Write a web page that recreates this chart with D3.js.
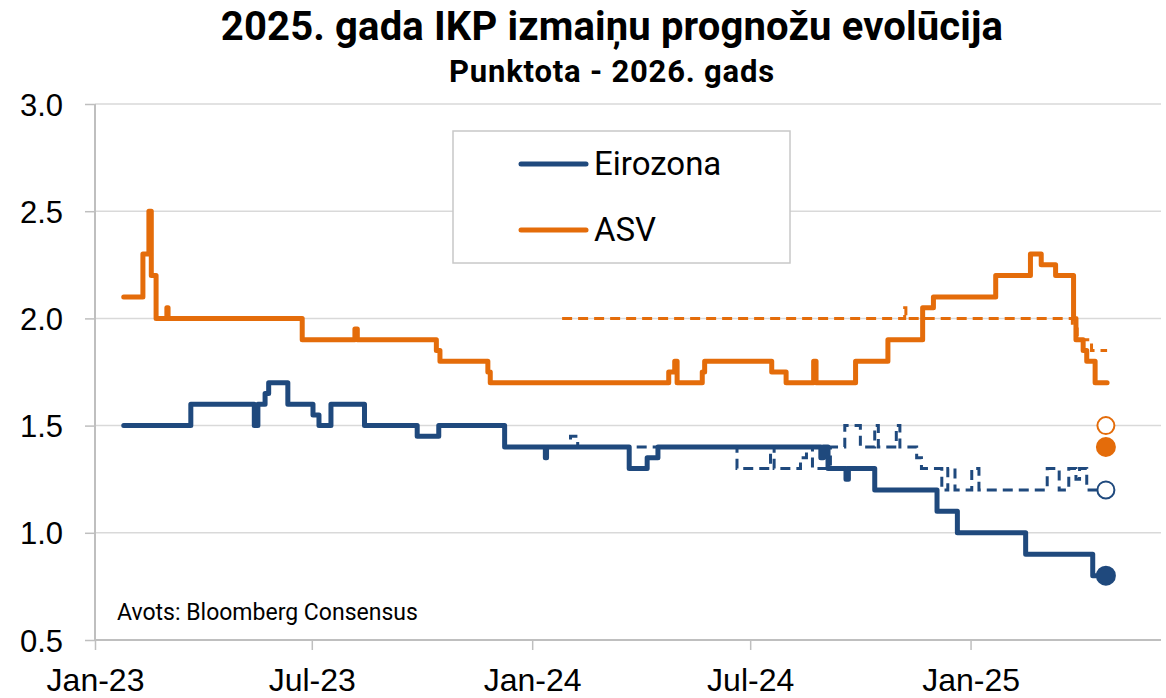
<!DOCTYPE html>
<html>
<head>
<meta charset="utf-8">
<script src="https://cdn.jsdelivr.net/npm/d3@7"></script>
<style>
  html, body { margin: 0; padding: 0; background: #fff; }
  svg { display: block; font-family: Roboto, "Noto Sans", sans-serif; }
</style>
</head>
<body>
<svg id="chart" width="1166" height="698"></svg>
<script>
// Dati (nolasīti no attēla)
var seriesNames = ["Eirozona", "ASV"];
var seriesColors = ["#1F497D", "#E46C0A"];

// Eirozona, 2025. gada prognoze (nepārtraukta)
var ezDates = ["2023-01-25", "2023-03-22", "2023-05-14", "2023-05-17", "2023-05-23", "2023-05-26",
  "2023-06-11", "2023-07-02", "2023-07-07", "2023-07-17", "2023-08-14", "2023-09-27", "2023-10-15",
  "2023-12-09", "2024-01-12", "2024-01-13", "2024-03-22", "2024-04-06", "2024-04-15", "2024-08-29",
  "2024-08-31", "2024-09-04", "2024-09-19", "2024-09-21", "2024-10-13", "2024-12-04", "2024-12-21",
  "2025-02-16", "2025-04-13", "2025-04-25"];
var ezValues = [1.5, 1.6, 1.5, 1.6, 1.65, 1.7,
  1.6, 1.55, 1.5, 1.6, 1.5, 1.45, 1.5,
  1.4, 1.35, 1.4, 1.3, 1.35, 1.4, 1.35,
  1.4, 1.3, 1.25, 1.3, 1.2, 1.1, 1.0,
  0.9, 0.8, 0.8];

// Eirozona, 2026. gada prognoze (punktota)
var ez26Dates = ["2024-01-26", "2024-02-02", "2024-02-08", "2024-06-20", "2024-07-18", "2024-07-21",
  "2024-08-12", "2024-08-17", "2024-08-22", "2024-09-06", "2024-09-18", "2024-10-01", "2024-10-13",
  "2024-10-16", "2024-10-31", "2024-11-03", "2024-11-17", "2024-11-21", "2024-12-08", "2024-12-13",
  "2024-12-19", "2025-01-02", "2025-01-08", "2025-03-06", "2025-03-16", "2025-03-24", "2025-03-30",
  "2025-04-02", "2025-04-08", "2025-04-25"];
var ez26Values = [1.4, 1.45, 1.4, 1.3, 1.4, 1.3,
  1.35, 1.4, 1.3, 1.4, 1.5, 1.4, 1.5,
  1.4, 1.5, 1.4, 1.35, 1.3, 1.2, 1.3,
  1.2, 1.3, 1.2, 1.3, 1.2, 1.3, 1.25,
  1.3, 1.2, 1.2];

// ASV, 2025. gada prognoze (nepārtraukta)
var usDates = ["2023-01-25", "2023-02-10", "2023-02-15", "2023-02-17", "2023-02-21", "2023-03-02",
  "2023-03-03", "2023-06-23", "2023-08-06", "2023-08-08", "2023-10-13", "2023-10-16", "2023-11-25",
  "2023-11-27", "2024-04-24", "2024-04-29", "2024-05-01", "2024-05-22", "2024-05-24", "2024-07-19",
  "2024-07-31", "2024-08-23", "2024-08-25", "2024-09-27", "2024-10-24", "2024-11-22", "2024-12-01",
  "2025-01-22", "2025-02-20", "2025-03-01", "2025-03-13", "2025-03-28", "2025-03-30", "2025-04-05",
  "2025-04-08", "2025-04-15", "2025-04-25"];
var usValues = [2.1, 2.3, 2.5, 2.2, 2.0, 2.05,
  2.0, 1.9, 1.95, 1.9, 1.85, 1.8, 1.75,
  1.7, 1.75, 1.8, 1.7, 1.75, 1.8, 1.75,
  1.7, 1.8, 1.7, 1.8, 1.9, 2.05, 2.1,
  2.2, 2.3, 2.25, 2.2, 2.0, 1.9, 1.85,
  1.8, 1.7, 1.7];

// ASV, 2026. gada prognoze (punktota)
var us26Dates = ["2024-01-26", "2024-11-07", "2024-11-08", "2025-03-27", "2025-03-31", "2025-04-12", "2025-04-25"];
var us26Values = [2.0, 2.05, 2.0, 1.95, 1.9, 1.85, 1.85];

// Jaunākās prognozes (punkti)
var dotDate = "2025-04-24";
var dotValues = [0.8, 1.2, 1.4, 1.5];
var dotSeries = [0, 0, 1, 1];
var dotFilled = [true, false, true, false];

// Asis
var xTicks = ["2023-01-01", "2023-07-01", "2024-01-01", "2024-07-01", "2025-01-01"];
var yTicks = [0.5, 1.0, 1.5, 2.0, 2.5, 3.0];
var xStart = "2023-01-01", xEnd = "2025-06-09";

var titleText = "2025. gada IKP izmaiņu prognožu evolūcija";
var subtitleText = "Punktota - 2026. gads";
var sourceText = "Avots: Bloomberg Consensus";

var parse = d3.timeParse("%Y-%m-%d");

function toPoints(dates, values) {
  return dates.map(function (d, i) { return { date: parse(d), value: values[i] }; });
}

var margin = { top: 104, right: 5, bottom: 58, left: 95 },
  width = 1166 - margin.left - margin.right,
  height = 698 - margin.top - margin.bottom;

var svg = d3.select("#chart");

// Virsraksti
svg.append("text")
  .attr("x", 612).attr("y", 40)
  .attr("text-anchor", "middle")
  .style("font-size", "40px").style("font-weight", "bold").style("fill", "#000")
  .style("letter-spacing", "0.15px")
  .text(titleText);

svg.append("text")
  .attr("x", 612).attr("y", 82)
  .attr("text-anchor", "middle")
  .style("font-size", "31px").style("font-weight", "bold").style("fill", "#000")
  .style("letter-spacing", "0.8px")
  .text(subtitleText);

var g = svg.append("g").attr("transform", "translate(" + margin.left + "," + margin.top + ")");

// Skalas
var x = d3.scaleTime().domain([parse(xStart), parse(xEnd)]).range([0, width]);
var y = d3.scaleLinear().domain([0.5, 3.0]).range([height, 0]);

// Režģis
g.append("g").selectAll("line")
  .data(yTicks.filter(function (v) { return v > 0.5; }))
  .enter().append("line")
  .attr("x1", 0).attr("x2", width)
  .attr("y1", function (d) { return y(d); }).attr("y2", function (d) { return y(d); })
  .style("stroke", "#d9d9d9").style("stroke-width", 1.5);

// Y ass
var yAxis = d3.axisLeft(y).tickValues(yTicks).tickFormat(d3.format(".1f")).tickSize(10).tickPadding(22);
var yg = g.append("g").attr("class", "y axis").call(yAxis);
yg.select(".domain").remove();
yg.selectAll("line").style("stroke", "#bfbfbf").style("stroke-width", 1.5);
yg.selectAll("text").style("font-size", "31px").style("fill", "#000").attr("dy", "0.36em");

// X ass
var xAxis = d3.axisBottom(x).tickValues(xTicks.map(parse)).tickFormat(d3.timeFormat("%b-%y"))
  .tickSize(10).tickPadding(18);
var xg = g.append("g").attr("class", "x axis").attr("transform", "translate(0," + height + ")").call(xAxis);
xg.select(".domain").remove();
xg.selectAll("line").style("stroke", "#bfbfbf").style("stroke-width", 1.5);
xg.selectAll("text").style("font-size", "32px").style("fill", "#000").attr("dy", "0.71em");

// Ass līnijas
g.append("line").attr("x1", 0).attr("x2", width).attr("y1", height).attr("y2", height)
  .style("stroke", "#bfbfbf").style("stroke-width", 2);
g.append("line").attr("x1", 0).attr("x2", 0).attr("y1", 0).attr("y2", height)
  .style("stroke", "#bfbfbf").style("stroke-width", 2);

// Leģenda (balts fons aizsedz režģi)
var legend = svg.append("g");
legend.append("rect")
  .attr("x", 453).attr("y", 131).attr("width", 337).attr("height", 132)
  .style("fill", "#fff").style("stroke", "#c8c8c8").style("stroke-width", 1.5);
seriesNames.forEach(function (name, i) {
  var ly = 164 + i * 66;
  legend.append("line")
    .attr("x1", 521).attr("x2", 586).attr("y1", ly).attr("y2", ly)
    .style("stroke", seriesColors[i]).style("stroke-width", 5).style("stroke-linecap", "round");
  legend.append("text")
    .attr("x", 594).attr("y", ly + 11)
    .style("font-size", "33px").style("fill", "#000")
    .text(name);
});

// Līnijas
var line = d3.line()
  .x(function (d) { return x(d.date); })
  .y(function (d) { return y(d.value); })
  .curve(d3.curveStepAfter);

var dashed = [
  { points: toPoints(ez26Dates, ez26Values), color: seriesColors[0] },
  { points: toPoints(us26Dates, us26Values), color: seriesColors[1] }
];
var solid = [
  { points: toPoints(ezDates, ezValues), color: seriesColors[0] },
  { points: toPoints(usDates, usValues), color: seriesColors[1] }
];

g.selectAll(".dash-line").data(dashed).enter().append("path")
  .attr("class", "dash-line")
  .attr("d", function (d) { return line(d.points); })
  .style("fill", "none")
  .style("stroke", function (d) { return d.color; })
  .style("stroke-width", 3)
  .style("stroke-dasharray", "10,6");

g.selectAll(".solid-line").data(solid).enter().append("path")
  .attr("class", "solid-line")
  .attr("d", function (d) { return line(d.points); })
  .style("fill", "none")
  .style("stroke", function (d) { return d.color; })
  .style("stroke-width", 5)
  .style("stroke-linejoin", "round")
  .style("stroke-linecap", "round");

// Punkti
g.selectAll(".dot").data(dotValues).enter().append("circle")
  .attr("class", "dot")
  .attr("cx", x(parse(dotDate)))
  .attr("cy", function (d) { return y(d); })
  .attr("r", function (d, i) { return dotFilled[i] ? 9 : 8.5; })
  .style("fill", function (d, i) { return dotFilled[i] ? seriesColors[dotSeries[i]] : "#fff"; })
  .style("stroke", function (d, i) { return seriesColors[dotSeries[i]]; })
  .style("stroke-width", 2);

// Avots
svg.append("text")
  .attr("x", 117).attr("y", 620)
  .style("font-size", "23px").style("fill", "#000")
  .text(sourceText);
</script>
</body>
</html>
